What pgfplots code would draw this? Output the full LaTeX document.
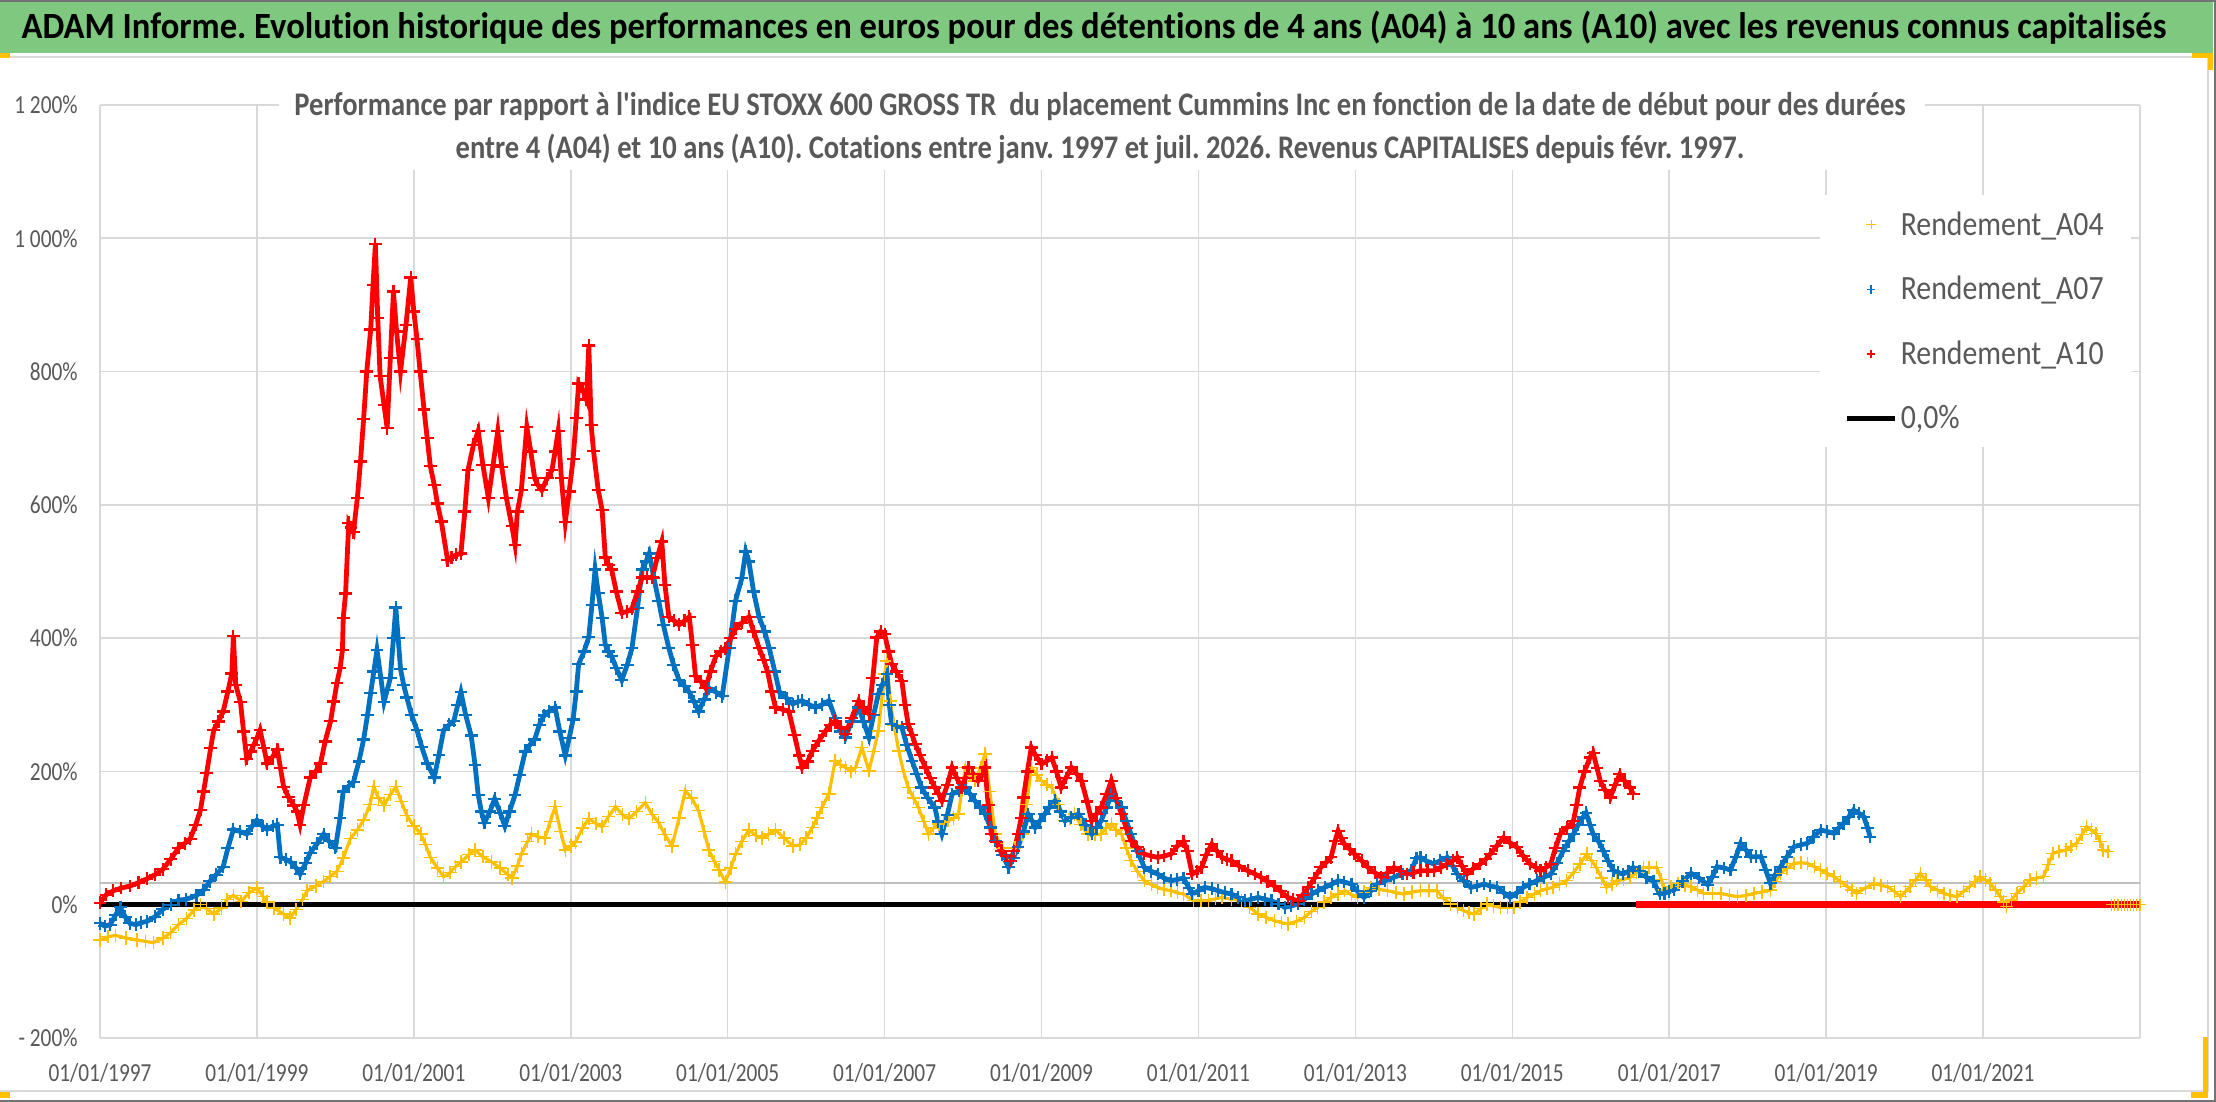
\documentclass[border=0pt]{standalone}
\usepackage{fontspec}
\usepackage{pgfplots}
\pgfplotsset{compat=1.18}
\setmainfont{Carlito}[Ligatures=NoCommon]
\newfontfamily\cfont{Carlito}[FakeStretch=0.82, Ligatures=NoCommon]
\newfontfamily\tfont{Carlito}[FakeStretch=0.935, Ligatures=NoCommon]
\newfontfamily\sfont{Carlito}[FakeStretch=0.866, Ligatures=NoCommon]
\newfontfamily\lfont{Carlito}[FakeStretch=0.876, Ligatures=NoCommon]
\definecolor{c04}{HTML}{FFC000}
\definecolor{c07}{HTML}{0070C0}
\definecolor{c10}{HTML}{FF0000}
\definecolor{gridc}{HTML}{D9D9D9}
\definecolor{labc}{HTML}{595959}
\definecolor{bandc}{RGB}{126,200,128}
\definecolor{handc}{HTML}{FFC000}
\frenchspacing
\pgfplotsset{
 s04/.style={color=c04, line width=1.6pt, mark=+, mark size=3.3pt, mark options={line width=0.75pt}},
 s07/.style={color=c07, line width=2.4pt, mark=+, mark size=3.2pt, mark options={line width=1.1pt}},
 s10/.style={color=c10, line width=2.4pt, mark=+, mark size=3.2pt, mark options={line width=1.1pt}},
}
\begin{document}
\begin{tikzpicture}
\path[use as bounding box, fill=white] (0,0) rectangle (1108pt,551pt);
% title band
\fill[bandc] (0,524.5pt) rectangle (1106.5pt,550pt);
\draw[black!55, line width=1pt] (0,550.5pt) -- (1108pt,550.5pt);
\draw[gridc, line width=1pt] (0,522.5pt) -- (1104pt,522.5pt);
\draw[gridc, line width=1pt] (1104pt,522.5pt) -- (1104pt,5.5pt) -- (0,5.5pt);
\draw[black!55, line width=1pt] (1107.5pt,551pt) -- (1107.5pt,0.5pt) -- (0,0.5pt);
\fill[handc] (0,522pt) rectangle (5pt,524.5pt);
\fill[handc] (1096pt,522pt) rectangle (1106.5pt,524.5pt);
\fill[handc] (1104pt,516pt) rectangle (1106.5pt,524.5pt);
\fill[handc] (1101.5pt,2pt) rectangle (1104pt,32.5pt);
\fill[handc] (1095.5pt,2pt) rectangle (1104pt,5pt);
\fill[handc] (0,2pt) rectangle (5pt,5pt);
\node[font=\tfont\bfseries\fontsize{18.5}{20}\selectfont, text=black, anchor=center] at (547pt,537pt)
 {ADAM Informe. Evolution historique des performances en euros pour des détentions de 4 ans (A04) à 10 ans (A10) avec les revenus connus capitalisés};

\begin{axis}[
 at={(50pt,32pt)}, anchor=south west, scale only axis, width=1020pt, height=466.5pt,
 xmin=1997, xmax=2023, ymin=-200, ymax=1200,
 xtick={1997,1999,2001,2003,2005,2007,2009,2011,2013,2015,2017,2019,2021,2023},
 xticklabels={01/01/1997,01/01/1999,01/01/2001,01/01/2003,01/01/2005,01/01/2007,01/01/2009,01/01/2011,01/01/2013,01/01/2015,01/01/2017,01/01/2019,01/01/2021,{}},
 ytick={-200,0,200,400,600,800,1000,1200},
 yticklabels={- 200\%,0\%,200\%,400\%,600\%,800\%,1 000\%,1 200\%},
 grid=major, major grid style={draw=gridc, line width=0.8pt},
 axis line style={draw=none}, major tick length=0pt,
 ticklabel style={font=\cfont\fontsize{13}{15}\selectfont, text=labc},
 xticklabel style={anchor=center, inner sep=0pt, yshift=-17.5pt},
 yticklabel style={anchor=east, inner sep=0pt, xshift=-11pt},
 legend image code/.code={\draw[mark repeat=2, mark phase=2, #1] plot coordinates {(0pt,0pt) (12pt,0pt) (24pt,0pt)};},
 legend style={at={(rel axis cs:0.8431,0.9035)}, anchor=north west, draw=none, fill=white,
   font=\lfont\fontsize{17}{19}\selectfont, text=labc, row sep=15pt, inner xsep=12pt, inner ysep=6pt,
   nodes={inner xsep=1.5pt}},
 legend cell align=left,
]
\addlegendimage{only marks, mark=+, color=c04, mark size=2.3pt, mark options={line width=0.5pt}}
\addlegendentry{Rendement\_A04}
\addlegendimage{only marks, mark=+, color=c07, mark size=2.1pt, mark options={line width=0.8pt}}
\addlegendentry{Rendement\_A07}
\addlegendimage{only marks, mark=+, color=c10, mark size=2.1pt, mark options={line width=0.8pt}}
\addlegendentry{Rendement\_A10}
\addlegendimage{black, line width=2.75pt, mark=none}
\addlegendentry{0,0\%}

\addplot[forget plot, color=black!25, line width=0.8pt] coordinates {(1997,33) (2023,33)};

% A04
\addplot[forget plot, s04] coordinates {
(1997.00,-53)(1997.10,-48)(1997.20,-46)(1997.33,-50)(1997.47,-53)(1997.58,-55)(1997.68,-57)(1997.80,-50)(1997.90,-42)(1998.00,-30)
(1998.10,-21)(1998.20,-8)(1998.28,0)(1998.36,-6)(1998.45,-14)(1998.55,-5)(1998.62,8)(1998.70,14)(1998.80,5)(1998.90,18)
(1999.00,25)(1999.08,12)(1999.13,4)(1999.22,-5)(1999.34,-14)(1999.42,-20)(1999.50,-7)(1999.58,8)(1999.64,21)(1999.75,28)
(1999.85,35)(1999.93,42)(2000.02,50)(2000.10,70)(2000.19,99)(2000.28,112)(2000.36,127)(2000.44,150)(2000.49,177)(2000.55,160)
(2000.62,149)(2000.70,165)(2000.77,177)(2000.84,155)(2000.91,134)(2001.00,118)(2001.09,106)(2001.15,90)(2001.21,71)(2001.30,55)
(2001.38,42)(2001.46,48)(2001.53,57)(2001.60,64)(2001.70,75)(2001.78,82)(2001.88,72)(2001.99,64)(2002.10,55)(2002.20,45)
(2002.25,40)(2002.32,58)(2002.37,76)(2002.45,95)(2002.50,106)(2002.58,102)(2002.67,100)(2002.74,125)(2002.80,147)(2002.87,110)
(2002.93,82)(2003.00,88)(2003.06,94)(2003.15,115)(2003.23,129)(2003.32,122)(2003.40,117)(2003.48,132)(2003.57,147)(2003.66,135)
(2003.74,129)(2003.84,140)(2003.95,153)(2004.04,135)(2004.12,123)(2004.20,105)(2004.29,88)(2004.38,130)(2004.46,171)(2004.54,160)
(2004.63,141)(2004.70,110)(2004.76,82)(2004.83,65)(2004.89,52)(2004.97,34)(2005.04,55)(2005.10,76)(2005.18,95)(2005.27,112)
(2005.36,104)(2005.44,100)(2005.52,106)(2005.61,112)(2005.72,100)(2005.83,88)(2005.92,90)(2006.00,100)(2006.08,116)(2006.14,130)
(2006.20,146)(2006.29,166)(2006.37,216)(2006.44,210)(2006.50,206)(2006.57,200)(2006.63,206)(2006.71,236)(2006.80,201)(2006.86,230)
(2006.92,261)(2007.00,346)(2007.03,366)(2007.07,306)(2007.12,270)(2007.18,231)(2007.24,200)(2007.30,176)(2007.37,160)(2007.43,146)
(2007.50,125)(2007.56,106)(2007.62,115)(2007.69,121)(2007.75,124)(2007.81,126)(2007.88,130)(2007.94,136)(2008.03,206)(2008.09,195)
(2008.15,186)(2008.22,205)(2008.28,226)(2008.34,170)(2008.41,106)(2008.50,85)(2008.58,66)(2008.66,85)(2008.75,106)(2008.81,150)
(2008.87,206)(2008.94,195)(2009.00,186)(2009.07,180)(2009.13,176)(2009.22,150)(2009.30,126)(2009.36,130)(2009.42,136)(2009.50,120)
(2009.59,106)(2009.68,105)(2009.76,106)(2009.82,115)(2009.89,121)(2009.95,112)(2010.02,106)(2010.08,85)(2010.14,66)(2010.22,50)
(2010.31,36)(2010.40,30)(2010.48,26)(2010.56,23)(2010.65,21)(2010.73,18)(2010.81,16)(2010.94,6)(2011.03,6)(2011.13,6)
(2011.22,9)(2011.30,11)(2011.42,8)(2011.55,6)(2011.65,-4)(2011.76,-14)(2011.86,-19)(2011.97,-24)(2012.06,-27)(2012.14,-29)
(2012.25,-25)(2012.35,-19)(2012.44,-10)(2012.52,-4)(2012.60,4)(2012.69,11)(2012.78,16)(2012.86,21)(2012.95,15)(2013.03,11)
(2013.11,19)(2013.20,26)(2013.30,23)(2013.41,21)(2013.52,18)(2013.62,16)(2013.72,19)(2013.83,21)(2013.94,21)(2014.04,21)
(2014.12,10)(2014.21,1)(2014.30,-4)(2014.38,-9)(2014.45,-12)(2014.51,-14)(2014.60,-6)(2014.68,1)(2014.76,-2)(2014.85,-4)
(2014.94,-4)(2015.02,-4)(2015.10,4)(2015.19,11)(2015.28,16)(2015.36,21)(2015.44,24)(2015.52,26)(2015.60,31)(2015.69,36)
(2015.78,48)(2015.86,61)(2015.95,76)(2016.01,66)(2016.07,56)(2016.14,40)(2016.20,26)(2016.27,31)(2016.33,36)(2016.42,38)
(2016.50,41)(2016.58,48)(2016.67,56)(2016.74,56)(2016.84,56)(2016.90,38)(2016.94,22)(2017.02,27)(2017.11,32)(2017.20,29)
(2017.28,27)(2017.36,22)(2017.44,17)(2017.55,17)(2017.66,17)(2017.77,14)(2017.87,12)(2017.98,14)(2018.08,17)(2018.18,19)
(2018.29,22)(2018.35,35)(2018.42,47)(2018.50,55)(2018.59,62)(2018.68,63)(2018.76,62)(2018.85,57)(2018.93,52)(2019.01,47)
(2019.10,42)(2019.18,35)(2019.27,27)(2019.33,22)(2019.39,17)(2019.50,25)(2019.61,32)(2019.70,29)(2019.78,27)(2019.87,20)
(2019.95,12)(2020.01,20)(2020.07,27)(2020.14,37)(2020.20,47)(2020.27,37)(2020.33,27)(2020.42,22)(2020.50,17)(2020.58,14)
(2020.67,12)(2020.75,20)(2020.83,27)(2020.90,35)(2020.96,42)(2021.03,37)(2021.09,32)(2021.16,22)(2021.22,12)(2021.26,4)
(2021.30,-3)(2021.36,7)(2021.43,17)(2021.52,27)(2021.60,37)(2021.68,40)(2021.77,42)(2021.83,60)(2021.89,77)(2021.97,80)
(2022.06,82)(2022.12,87)(2022.19,92)(2022.26,105)(2022.32,117)(2022.38,112)(2022.44,107)(2022.49,95)(2022.53,82)(2022.59,80)
};

% A07
\addplot[forget plot, s07] coordinates {
(1997.00,-28)(1997.06,-32)(1997.13,-30)(1997.20,-15)(1997.26,-4)(1997.32,-18)(1997.38,-28)(1997.46,-30)(1997.52,-27)(1997.60,-25)
(1997.70,-18)(1997.80,-7)(1997.90,0)(1998.00,7)(1998.10,8)(1998.23,14)(1998.32,22)(1998.40,35)(1998.48,45)(1998.57,57)
(1998.63,85)(1998.70,113)(1998.78,110)(1998.87,106)(1998.94,118)(1999.00,127)(1999.07,118)(1999.13,113)(1999.20,118)(1999.26,120)
(1999.30,71)(1999.37,68)(1999.43,64)(1999.50,55)(1999.55,46)(1999.62,62)(1999.68,78)(1999.77,92)(1999.85,106)(1999.92,95)
(2000.00,85)(2000.06,130)(2000.10,170)(2000.17,178)(2000.23,184)(2000.30,215)(2000.36,248)(2000.41,285)(2000.45,318)(2000.49,350)
(2000.53,382)(2000.58,340)(2000.62,304)(2000.66,322)(2000.70,340)(2000.74,400)(2000.77,446)(2000.80,400)(2000.83,354)(2000.87,330)
(2000.91,311)(2000.97,285)(2001.04,262)(2001.10,237)(2001.17,212)(2001.26,191)(2001.32,225)(2001.38,262)(2001.45,270)(2001.51,276)
(2001.56,300)(2001.60,319)(2001.66,285)(2001.73,254)(2001.78,210)(2001.82,165)(2001.86,140)(2001.90,123)(2001.97,140)(2002.03,159)
(2002.10,138)(2002.16,118)(2002.22,140)(2002.29,165)(2002.35,195)(2002.42,230)(2002.48,240)(2002.54,248)(2002.60,270)(2002.66,284)
(2002.72,290)(2002.80,296)(2002.86,260)(2002.93,224)(2002.98,250)(2003.03,278)(2003.07,320)(2003.10,361)(2003.17,380)(2003.23,402)
(2003.27,450)(2003.31,503)(2003.35,468)(2003.40,430)(2003.44,390)(2003.48,380)(2003.52,373)(2003.58,355)(2003.65,337)(2003.72,360)
(2003.78,385)(2003.85,445)(2003.91,503)(2003.96,515)(2004.00,527)(2004.06,490)(2004.12,456)(2004.18,420)(2004.25,385)(2004.31,360)
(2004.38,337)(2004.45,328)(2004.51,319)(2004.57,305)(2004.63,290)(2004.70,308)(2004.76,325)(2004.85,319)(2004.93,313)(2005.02,385)
(2005.10,456)(2005.18,490)(2005.23,530)(2005.27,515)(2005.33,470)(2005.40,432)(2005.47,410)(2005.53,385)(2005.60,350)(2005.66,319)
(2005.75,310)(2005.83,301)(2005.90,305)(2005.95,306)(2006.04,300)(2006.12,296)(2006.20,300)(2006.29,306)(2006.37,280)(2006.44,260)
(2006.50,251)(2006.58,275)(2006.67,296)(2006.73,275)(2006.80,251)(2006.86,285)(2006.92,316)(2006.97,330)(2007.03,346)(2007.06,300)
(2007.09,271)(2007.16,268)(2007.22,266)(2007.28,240)(2007.35,216)(2007.41,196)(2007.47,176)(2007.55,160)(2007.64,146)(2007.68,125)
(2007.73,106)(2007.80,135)(2007.86,166)(2007.95,171)(2008.03,176)(2008.09,166)(2008.15,156)(2008.22,146)(2008.28,136)(2008.35,116)
(2008.41,96)(2008.50,75)(2008.58,56)(2008.64,70)(2008.70,86)(2008.77,110)(2008.83,136)(2008.88,126)(2008.92,116)(2008.98,126)
(2009.04,136)(2009.10,146)(2009.17,156)(2009.24,140)(2009.30,126)(2009.38,131)(2009.47,136)(2009.56,120)(2009.64,106)(2009.70,116)
(2009.76,126)(2009.83,146)(2009.89,166)(2009.95,156)(2010.02,146)(2010.08,126)(2010.14,106)(2010.22,80)(2010.31,56)(2010.40,50)
(2010.48,46)(2010.56,40)(2010.65,36)(2010.73,38)(2010.81,40)(2010.88,25)(2010.92,16)(2011.00,21)(2011.08,26)(2011.17,24)
(2011.25,21)(2011.34,18)(2011.42,16)(2011.50,11)(2011.59,6)(2011.67,8)(2011.76,11)(2011.85,8)(2011.93,6)(2012.02,1)
(2012.10,-4)(2012.18,-2)(2012.27,1)(2012.35,8)(2012.44,16)(2012.52,21)(2012.61,26)(2012.70,31)(2012.78,36)(2012.86,34)
(2012.95,31)(2013.03,20)(2013.11,11)(2013.20,21)(2013.28,31)(2013.38,36)(2013.49,41)(2013.60,46)(2013.71,51)(2013.78,70)
(2013.83,71)(2013.90,66)(2014.00,61)(2014.08,66)(2014.17,71)(2014.24,58)(2014.30,46)(2014.38,36)(2014.47,26)(2014.55,28)
(2014.64,31)(2014.72,28)(2014.81,26)(2014.89,18)(2014.97,11)(2015.06,18)(2015.14,26)(2015.22,31)(2015.31,36)(2015.40,41)
(2015.49,46)(2015.57,62)(2015.65,81)(2015.72,95)(2015.78,106)(2015.84,120)(2015.90,131)(2015.94,138)(2015.99,120)(2016.03,106)
(2016.10,95)(2016.16,81)(2016.22,66)(2016.29,51)(2016.35,48)(2016.41,46)(2016.48,50)(2016.54,56)(2016.62,50)(2016.71,41)
(2016.80,35)(2016.88,16)(2016.94,17)(2017.00,20)(2017.06,22)(2017.17,35)(2017.28,47)(2017.38,40)(2017.49,30)(2017.55,42)
(2017.61,57)(2017.70,55)(2017.78,52)(2017.85,72)(2017.91,92)(2017.98,82)(2018.04,72)(2018.11,72)(2018.17,72)(2018.23,52)
(2018.29,32)(2018.35,45)(2018.42,57)(2018.50,72)(2018.59,87)(2018.68,90)(2018.76,92)(2018.84,102)(2018.93,112)(2019.01,110)
(2019.10,107)(2019.16,115)(2019.22,122)(2019.29,132)(2019.35,142)(2019.42,137)(2019.48,132)(2019.53,115)(2019.56,102)
};

% A10
\addplot[forget plot, s10] coordinates {
(1997.00,3)(1997.08,15)(1997.17,21)(1997.27,25)(1997.38,28)(1997.49,33)(1997.60,39)(1997.70,45)(1997.80,53)(1997.90,68)
(1998.00,85)(1998.08,92)(1998.15,99)(1998.22,120)(1998.28,142)(1998.32,170)(1998.36,198)(1998.41,235)(1998.45,262)(1998.51,275)
(1998.57,290)(1998.63,320)(1998.68,347)(1998.70,403)(1998.73,330)(1998.79,304)(1998.83,260)(1998.87,219)(1998.92,230)(1998.96,240)
(1999.00,250)(1999.04,262)(1999.09,235)(1999.13,212)(1999.20,222)(1999.26,233)(1999.30,205)(1999.34,177)(1999.40,162)(1999.47,149)
(1999.51,140)(1999.55,120)(1999.60,150)(1999.68,191)(1999.75,200)(1999.81,212)(1999.87,245)(1999.94,276)(1999.98,305)(2000.02,333)
(2000.06,355)(2000.09,382)(2000.10,430)(2000.13,467)(2000.17,573)(2000.20,566)(2000.23,559)(2000.28,610)(2000.32,665)(2000.36,729)
(2000.40,800)(2000.45,863)(2000.48,930)(2000.51,991)(2000.54,880)(2000.57,793)(2000.62,750)(2000.66,715)(2000.70,820)(2000.74,920)
(2000.78,860)(2000.83,800)(2000.90,870)(2000.96,941)(2001.00,890)(2001.04,849)(2001.08,800)(2001.13,743)(2001.17,700)(2001.21,658)
(2001.26,630)(2001.30,602)(2001.35,575)(2001.43,517)(2001.48,521)(2001.54,525)(2001.60,527)(2001.65,590)(2001.69,652)(2001.76,690)
(2001.82,711)(2001.88,660)(2001.95,610)(2002.01,660)(2002.07,711)(2002.12,657)(2002.18,610)(2002.25,568)(2002.29,540)(2002.32,590)
(2002.37,622)(2002.44,717)(2002.49,680)(2002.54,640)(2002.58,630)(2002.63,622)(2002.70,640)(2002.76,652)(2002.80,680)(2002.84,711)
(2002.88,640)(2002.93,574)(2002.98,620)(2003.03,669)(2003.07,730)(2003.10,782)(2003.16,770)(2003.20,758)(2003.23,839)(2003.26,720)
(2003.29,681)(2003.35,622)(2003.40,592)(2003.44,521)(2003.48,510)(2003.52,503)(2003.58,470)(2003.65,438)(2003.72,440)(2003.78,444)
(2003.85,470)(2003.91,491)(2003.97,491)(2004.04,491)(2004.10,520)(2004.16,545)(2004.20,480)(2004.25,432)(2004.32,426)(2004.38,420)
(2004.45,426)(2004.51,432)(2004.55,390)(2004.59,343)(2004.66,335)(2004.72,325)(2004.78,350)(2004.85,373)(2004.91,380)(2004.97,385)
(2005.04,400)(2005.10,414)(2005.18,423)(2005.27,432)(2005.33,410)(2005.40,385)(2005.46,367)(2005.51,349)(2005.56,320)(2005.61,296)
(2005.70,293)(2005.78,290)(2005.85,255)(2005.91,224)(2005.95,206)(2006.02,215)(2006.08,231)(2006.16,246)(2006.25,261)(2006.31,270)
(2006.37,276)(2006.44,266)(2006.50,256)(2006.58,280)(2006.67,306)(2006.73,296)(2006.80,286)(2006.85,340)(2006.90,401)(2006.95,410)
(2007.00,406)(2007.05,380)(2007.09,361)(2007.15,350)(2007.22,336)(2007.26,300)(2007.30,271)(2007.35,255)(2007.39,241)(2007.45,225)
(2007.52,206)(2007.58,190)(2007.64,176)(2007.69,166)(2007.73,156)(2007.80,180)(2007.86,206)(2007.92,190)(2007.98,176)(2008.03,190)
(2008.07,206)(2008.13,196)(2008.19,186)(2008.24,196)(2008.28,206)(2008.32,150)(2008.36,106)(2008.43,94)(2008.49,81)(2008.55,73)
(2008.60,66)(2008.65,80)(2008.70,106)(2008.74,130)(2008.77,161)(2008.82,200)(2008.87,236)(2008.92,225)(2009.00,211)(2009.07,216)
(2009.13,221)(2009.19,200)(2009.25,176)(2009.31,190)(2009.38,206)(2009.45,196)(2009.51,186)(2009.58,155)(2009.64,126)(2009.70,136)
(2009.76,146)(2009.83,166)(2009.89,186)(2009.95,160)(2010.02,136)(2010.08,115)(2010.14,96)(2010.22,86)(2010.31,76)(2010.40,73)
(2010.48,71)(2010.56,73)(2010.65,76)(2010.73,88)(2010.81,95)(2010.86,80)(2010.92,46)(2010.98,50)(2011.04,56)(2011.10,75)
(2011.17,91)(2011.24,80)(2011.30,71)(2011.36,68)(2011.42,66)(2011.52,58)(2011.63,51)(2011.72,46)(2011.80,41)(2011.88,35)
(2011.97,28)(2012.05,20)(2012.14,11)(2012.20,8)(2012.27,6)(2012.33,15)(2012.40,26)(2012.48,40)(2012.56,56)(2012.63,64)
(2012.69,71)(2012.74,95)(2012.78,111)(2012.82,100)(2012.86,91)(2012.93,83)(2012.99,76)(2013.08,66)(2013.16,56)(2013.25,48)
(2013.33,41)(2013.41,48)(2013.49,56)(2013.58,50)(2013.66,46)(2013.74,48)(2013.83,51)(2013.92,51)(2014.00,51)(2014.09,56)
(2014.17,61)(2014.24,66)(2014.30,71)(2014.36,58)(2014.42,46)(2014.50,54)(2014.59,61)(2014.66,68)(2014.72,76)(2014.80,88)
(2014.89,101)(2014.97,93)(2015.06,86)(2015.14,73)(2015.23,61)(2015.30,56)(2015.36,51)(2015.43,56)(2015.49,61)(2015.55,85)
(2015.61,106)(2015.70,116)(2015.78,126)(2015.82,150)(2015.86,176)(2015.92,200)(2015.99,221)(2016.03,228)(2016.08,205)(2016.12,186)
(2016.18,172)(2016.25,161)(2016.31,180)(2016.37,196)(2016.43,186)(2016.50,176)(2016.54,166)
};

% 0,0% reference line
\addplot[forget plot, black, line width=2.75pt] coordinates {(1997,0) (2016.58,0)};
% A10 zero values after the end of its data
\addplot[forget plot, c10, line width=3.6pt] coordinates {(2016.58,0) (2023,0)};
% A04 zero values after the end of its data
\addplot[forget plot, only marks, mark=+, color=c04, mark size=3pt, mark options={line width=0.6pt}] coordinates {
(2022.64,0)(2022.68,0)(2022.72,0)(2022.76,0)(2022.80,0)(2022.84,0)(2022.88,0)(2022.92,0)(2022.96,0)(2023.00,0)};
\end{axis}

\node[fill=white, inner sep=0pt, minimum width=823pt, minimum height=36pt, anchor=north] at (551pt,502pt) {};
\node[font=\sfont\bfseries\fontsize{16.5}{21.5}\selectfont, text=labc, align=center, anchor=center] at (550pt,487pt)
 {Performance par rapport à l'indice EU STOXX 600 GROSS TR\ \ du placement Cummins Inc en fonction de la date de début pour des durées\\
 entre 4 (A04) et 10 ans (A10). Cotations entre janv. 1997 et juil. 2026. Revenus CAPITALISES depuis févr. 1997.};
\end{tikzpicture}
\end{document}
